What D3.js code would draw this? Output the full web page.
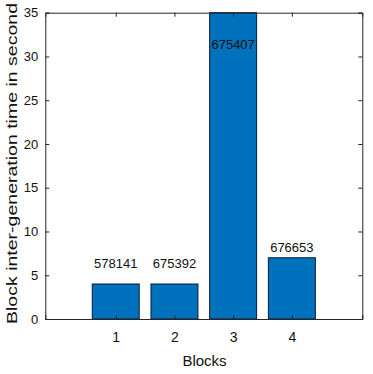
<!DOCTYPE html>
<html><head><meta charset="utf-8">
<script src="https://cdn.jsdelivr.net/npm/d3@7"></script>
<style>body{margin:0;background:#fff}svg{display:block}text{font-family:"Liberation Sans",Arial,sans-serif}</style>
</head><body><svg id="c" width="373" height="374"></svg>
<script>
const categories = [1, 2, 3, 4];
const values = [4, 4, 35, 7];
const barLabels = ["578141", "675392", "675407", "676653"];
const labelAt = [5.8, 5.8, 30.9, 7.7];
const yTicks = [0, 5, 10, 15, 20, 25, 30, 35];

const svg = d3.select("#c");
const L = 45.3, R = 362.3, T = 12.7, B = 319;
const x = d3.scaleLinear().domain([-0.2, 5.2]).range([L, R]);
const y = d3.scaleLinear().domain([0, 35]).range([B, T]);
const bw = x(0.8) - x(0);
const axisCol = "#262626";

// bars
svg.append("g").selectAll("rect").data(values).join("rect")
  .attr("x", (d, i) => x(categories[i]) - bw / 2)
  .attr("y", d => y(Math.min(d, 35)))
  .attr("width", bw)
  .attr("height", d => y(0) - y(Math.min(d, 35)))
  .attr("fill", "#0072BD").attr("stroke", "#0a1a3a").attr("stroke-width", 1);

// axes
const tl = 4;
const gl = svg.append("g").attr("transform", `translate(${L},0)`)
  .call(d3.axisLeft(y).tickValues(yTicks).tickSize(-tl).tickPadding(7).tickFormat(d3.format("d")));
const gr = svg.append("g").attr("transform", `translate(${R},0)`)
  .call(d3.axisRight(y).tickValues(yTicks).tickSize(-tl).tickFormat(""));
const gb = svg.append("g").attr("transform", `translate(0,${B})`)
  .call(d3.axisBottom(x).tickValues(categories).tickSize(-tl).tickPadding(13).tickFormat(d3.format("d")));
const gt = svg.append("g").attr("transform", `translate(0,${T})`)
  .call(d3.axisTop(x).tickValues(categories).tickSize(-tl).tickFormat(""));
[gl, gr, gb, gt].forEach(g => {
  g.select(".domain").attr("stroke", axisCol).attr("stroke-width", 1);
  g.selectAll(".tick line").attr("stroke", axisCol);
  g.selectAll("text").attr("font-family", "Liberation Sans, Arial, sans-serif")
    .attr("font-size", 13).attr("fill", "#111");
});
gb.selectAll("text").attr("font-size", 14);

// bar value labels
svg.append("g").selectAll("text").data(barLabels).join("text")
  .attr("x", (d, i) => x(categories[i]))
  .attr("y", (d, i) => y(labelAt[i]))
  .attr("text-anchor", "middle").attr("font-size", 13).attr("fill", "#111")
  .text(d => d);

// axis titles
svg.append("text").attr("x", 204.5).attr("y", 365.5)
  .attr("text-anchor", "middle").attr("font-size", 15).attr("fill", "#111").text("Blocks");
svg.append("text").attr("transform", `translate(17,163.5) rotate(-90)`)
  .attr("text-anchor", "middle").attr("font-size", 15).attr("fill", "#111")
  .attr("textLength", 321).attr("lengthAdjust", "spacingAndGlyphs")
  .text("Block inter-generation time in second");
</script></body></html>
